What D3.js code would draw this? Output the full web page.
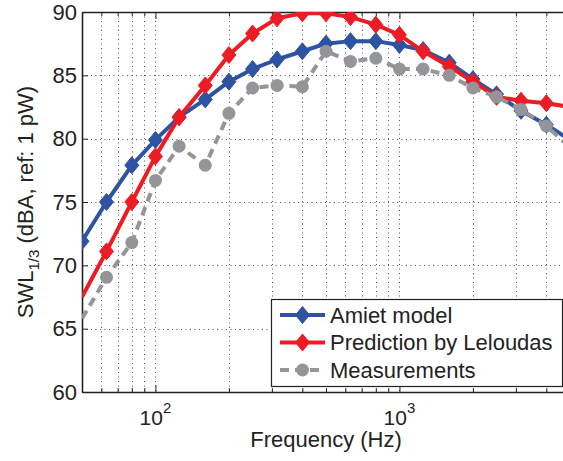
<!DOCTYPE html>
<html>
<head>
<meta charset="utf-8">
<script src="https://cdn.jsdelivr.net/npm/d3@7"></script>
<style>
  html, body { margin: 0; padding: 0; background: #fff; }
  svg { display: block; font-family: "Liberation Sans", Arial, Helvetica, sans-serif; }
</style>
</head>
<body>
<svg id="chart" width="563" height="461"></svg>
<script>
// ---- data ----
const frequencies = [50, 63, 80, 100, 125, 160, 200, 250, 315, 400, 500, 630, 800, 1000, 1250, 1600, 2000, 2500, 3150, 4000, 5000];
const amietModel = [71.9, 75.0, 77.9, 79.9, 81.7, 83.1, 84.5, 85.5, 86.25, 86.9, 87.5, 87.7, 87.7, 87.4, 87.0, 86.0, 84.7, 83.5, 82.2, 81.1, 79.9];
const leloudasPrediction = [67.5, 71.1, 75.0, 78.6, 81.7, 84.2, 86.6, 88.3, 89.5, 89.9, 89.9, 89.6, 89.0, 88.2, 86.9, 85.7, 84.5, 83.3, 83.0, 82.8, 82.5];
const measurements = [65.8, 69.05, 71.8, 76.7, 79.4, 77.9, 82.0, 84.0, 84.2, 84.1, 86.9, 86.1, 86.35, 85.5, 85.5, 85.0, 84.0, 83.3, 82.3, 81.0, 79.3];
const seriesNames = ["Amiet model", "Prediction by Leloudas", "Measurements"];
const yTicks = [60, 65, 70, 75, 80, 85, 90];
const xMajorTicks = [100, 1000];
const xMajorExponents = ["2", "3"];
const xMinorTicks = [60, 70, 80, 90, 200, 300, 400, 500, 600, 700, 800, 900, 2000, 3000, 4000];

// ---- layout ----
const svg = d3.select("#chart");
const L = 82, T = 12, B = 392, R = 570;
const x = d3.scaleLog().domain([50, 5000]).range([L, R]);
const y = d3.scaleLinear().domain([60, 90]).range([B, T]);

const series = [
  { name: seriesNames[0], values: amietModel, color: "#2e53a3", marker: "diamond", dash: null, markerFrom: 0 },
  { name: seriesNames[1], values: leloudasPrediction, color: "#ed1c24", marker: "diamond", dash: null, markerFrom: 1 },
  { name: seriesNames[2], values: measurements, color: "#939598", marker: "circle", dash: "9,6", markerFrom: 1 }
];

svg.append("defs").append("clipPath").attr("id", "plotClip")
  .append("rect").attr("x", L).attr("y", T).attr("width", R - L).attr("height", B - T);

svg.append("rect").attr("x", L).attr("y", T).attr("width", R - L).attr("height", B - T).attr("fill", "#fff");

// ---- grid ----
const grid = svg.append("g").attr("stroke", "#555").attr("stroke-width", 1).attr("stroke-dasharray", "1,3.5");
grid.selectAll("line.gx").data(xMinorTicks.concat(xMajorTicks)).join("line")
  .attr("x1", d => Math.round(x(d)) + 0.5).attr("x2", d => Math.round(x(d)) + 0.5)
  .attr("y1", T).attr("y2", B);
grid.selectAll("line.gy").data(yTicks.slice(1, -1)).join("line")
  .attr("class", "gy")
  .attr("x1", L).attr("x2", R)
  .attr("y1", d => Math.round(y(d)) + 0.5).attr("y2", d => Math.round(y(d)) + 0.5);

// ---- axes ----
const axisColor = "#222";
const xAxisB = svg.append("g").attr("transform", `translate(0,${B})`)
  .call(d3.axisBottom(x).tickValues(xMajorTicks.concat(xMinorTicks)).tickFormat("").tickSizeInner(-5).tickSizeOuter(0));
xAxisB.selectAll(".tick line").attr("y2", d => xMajorTicks.includes(d) ? -7 : -4);
const xAxisT = svg.append("g").attr("transform", `translate(0,${T})`)
  .call(d3.axisTop(x).tickValues(xMajorTicks.concat(xMinorTicks)).tickFormat("").tickSizeInner(-5).tickSizeOuter(0));
xAxisT.selectAll(".tick line").attr("y2", d => xMajorTicks.includes(d) ? 7 : 4);
const yAxis = svg.append("g").attr("transform", `translate(${L},0)`)
  .call(d3.axisLeft(y).tickValues(yTicks).tickSizeInner(-6).tickSizeOuter(0).tickPadding(5));
[xAxisB, xAxisT, yAxis].forEach(g => {
  g.select(".domain").attr("stroke", axisColor).attr("stroke-width", 1.6);
  g.selectAll(".tick line").attr("stroke", axisColor).attr("stroke-width", 1);
});
yAxis.selectAll(".tick text").attr("font-size", 22).attr("fill", "#222").attr("font-family", "Liberation Sans, Arial, sans-serif");

// x major labels 10^n
const xl = svg.append("g");
xMajorTicks.forEach((v, i) => {
  const t = xl.append("text").attr("x", x(v)).attr("y", 425).attr("text-anchor", "middle")
    .attr("font-size", 21).attr("fill", "#222");
  t.append("tspan").text("10");
  t.append("tspan").attr("dy", -12).attr("font-size", 15).text(xMajorExponents[i]);
});

// axis titles
svg.append("text").attr("x", (L + R) / 2).attr("y", 447).attr("text-anchor", "middle")
  .attr("font-size", 22).attr("fill", "#222").text("Frequency (Hz)");
const yt = svg.append("text").attr("transform", `translate(33,${(T + B) / 2}) rotate(-90)`)
  .attr("text-anchor", "middle").attr("font-size", 22).attr("fill", "#222");
yt.append("tspan").text("SWL");
yt.append("tspan").attr("dy", 6).attr("font-size", 15).text("1/3");
yt.append("tspan").attr("dy", -6).text(" (dBA, ref: 1 pW)");

// ---- series ----
const plot = svg.append("g").attr("clip-path", "url(#plotClip)");
const diamond = (cx, cy, w, h) => `M${cx},${cy - h}L${cx + w},${cy}L${cx},${cy + h}L${cx - w},${cy}Z`;

function drawMarker(g, s, cx, cy) {
  if (s.marker === "diamond") {
    g.append("path").attr("d", diamond(cx, cy, 7, 8.5)).attr("fill", s.color).attr("stroke", s.color).attr("stroke-width", 1);
  } else {
    g.append("circle").attr("cx", cx).attr("cy", cy).attr("r", 6.5).attr("fill", s.color);
  }
}

const line = d3.line().x((d, i) => x(frequencies[i])).y(d => y(d));
series.forEach(s => {
  const g = plot.append("g");
  g.append("path").attr("d", line(s.values)).attr("fill", "none")
    .attr("stroke", s.color).attr("stroke-width", 4).attr("stroke-linejoin", "round")
    .attr("stroke-dasharray", s.dash);
  s.values.forEach((v, i) => {
    if (i >= s.markerFrom) drawMarker(g, s, x(frequencies[i]), y(v));
  });
});

// ---- legend ----
const lg = svg.append("g");
lg.append("rect").attr("x", 271.5).attr("y", 299.5).attr("width", 291).attr("height", 87)
  .attr("fill", "#fff").attr("stroke", "#222").attr("stroke-width", 1.2);
series.forEach((s, i) => {
  const cy = 315 + i * 27.5;
  const row = lg.append("g");
  row.append("line").attr("x1", 280).attr("x2", 325).attr("y1", cy).attr("y2", cy)
    .attr("stroke", s.color).attr("stroke-width", 4).attr("stroke-dasharray", s.dash);
  drawMarker(row, s, 302.5, cy);
  row.append("text").attr("x", 330).attr("y", cy + 7.5).attr("font-size", 22).attr("fill", "#222").text(s.name);
});
</script>
</body>
</html>
